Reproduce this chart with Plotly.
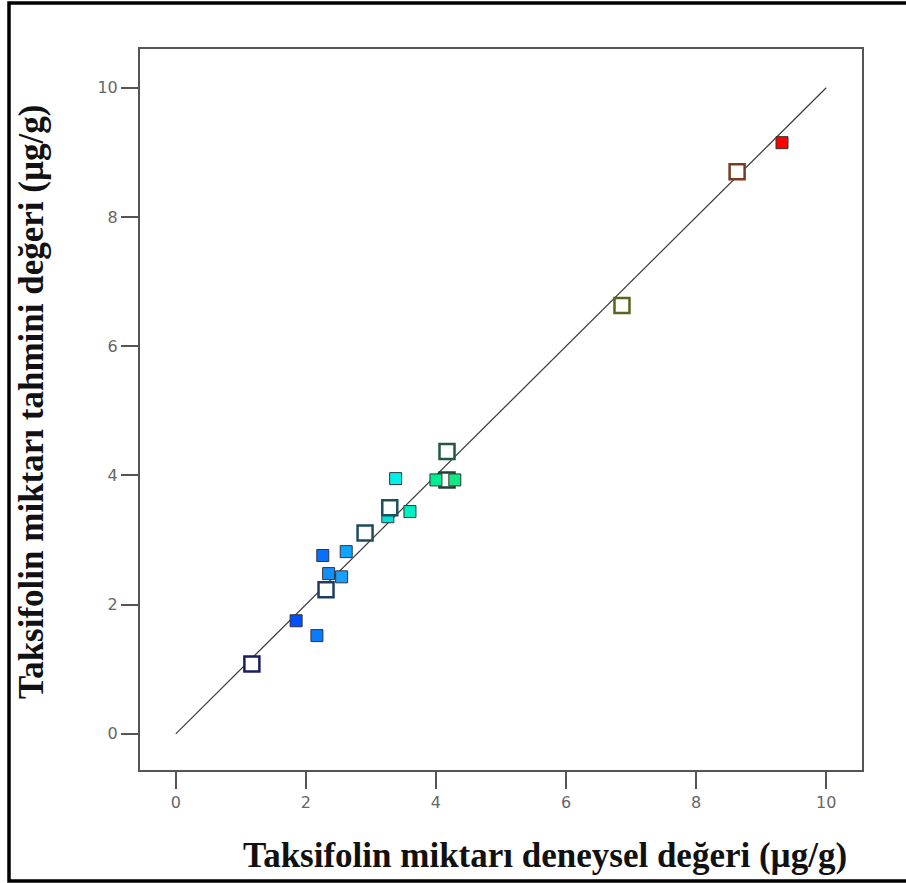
import plotly.graph_objects as go

# Design points: actual (x) vs predicted (y), taxifolin µg/g
filled_x = [1.85, 2.17, 2.26, 2.35, 2.55, 2.62, 3.26, 3.38, 3.60, 9.32, 4.00, 4.29]
filled_y = [1.75, 1.52, 2.76, 2.48, 2.43, 2.82, 3.36, 3.95, 3.44, 9.15, 3.93, 3.93]
filled_colors = ["#0050ff", "#0a7cff", "#0870ff", "#1090ff", "#18a0ff", "#10a4ff",
                 "#00e4dc", "#00f0ec", "#00f0c4", "#ff0000", "#00ee90", "#10e884"]

open_x = [1.17, 2.31, 2.91, 3.29, 4.17, 4.17, 6.86, 8.63]
open_y = [1.08, 2.23, 3.11, 3.50, 4.37, 3.93, 6.63, 8.70]
open_colors = ["#1c1c5e", "#1e3c62", "#204a5c", "#1f5058", "#1f5a40", "#1f4034",
               "#56661c", "#7a3a20"]

line_x = [0, 10]
line_y = [0, 10]

x_ticks = [0, 2, 4, 6, 8, 10]
y_ticks = [0, 2, 4, 6, 8, 10]

x_title = "Taksifolin miktarı deneysel değeri (µg/g)"
y_title = "Taksifolin miktarı tahmini değeri (µg/g)"

fig = go.Figure()

fig.add_trace(go.Scatter(x=line_x, y=line_y, mode="lines",
                         line=dict(color="#3a3a3a", width=1.2),
                         hoverinfo="skip", showlegend=False))

n_first = 10
fig.add_trace(go.Scatter(
    x=filled_x[:n_first], y=filled_y[:n_first], mode="markers",
    marker=dict(symbol="square", size=12, color=filled_colors[:n_first],
                line=dict(color="#333333", width=1)),
    showlegend=False))

fig.add_trace(go.Scatter(
    x=open_x, y=open_y, mode="markers",
    marker=dict(symbol="square", size=15, color="white",
                line=dict(color=open_colors, width=2.5)),
    showlegend=False))

fig.add_trace(go.Scatter(
    x=filled_x[n_first:], y=filled_y[n_first:], mode="markers",
    marker=dict(symbol="square", size=12, color=filled_colors[n_first:],
                line=dict(color="#333333", width=1)),
    showlegend=False))

L, R, T, B = 140, 44, 49, 113
W, H = 906, 883
pw = W - L - R
ph = H - T - B

tickfont = dict(family="DejaVu Sans", size=16, color="#666666")

fig.update_layout(
    width=W, height=H,
    margin=dict(l=L, r=R, t=T, b=B),
    paper_bgcolor="white", plot_bgcolor="white",
    font=dict(family="DejaVu Sans", color="#555555"),
    xaxis=dict(range=[-0.55, 10.55], tickvals=x_ticks, showgrid=False, zeroline=False,
               showline=True, mirror=True, linecolor="#555555", linewidth=2,
               ticks="outside", ticklen=17, tickwidth=2, tickcolor="#555555",
               tickfont=tickfont),
    yaxis=dict(range=[-0.56, 10.6], tickvals=y_ticks, showgrid=False, zeroline=False,
               showline=True, mirror=True, linecolor="#555555", linewidth=2,
               ticks="outside", ticklen=17, tickwidth=2, tickcolor="#555555",
               tickfont=tickfont),
    annotations=[
        dict(text="<b>" + x_title + "</b>", xref="paper", yref="paper",
             x=(545 - L) / pw, y=-(855 - (T + ph)) / ph, xanchor="center", yanchor="middle",
             showarrow=False, font=dict(family="Liberation Serif", size=35, color="#111111")),
        dict(text="<b>" + y_title + "</b>", xref="paper", yref="paper",
             x=-(L - 31) / pw, y=1 - (402 - T) / ph, xanchor="center", yanchor="middle",
             textangle=-90, showarrow=False,
             font=dict(family="Liberation Serif", size=35, color="#111111")),
    ],
    shapes=[
        dict(type="rect", xref="paper", yref="paper",
             x0=(9 - L) / pw, x1=(W + 4 - L) / pw,
             y0=-(881 - (T + ph)) / ph, y1=1 + (T - 3) / ph,
             line=dict(color="black", width=3.5), layer="above"),
    ],
)

fig.write_html("out.html")
